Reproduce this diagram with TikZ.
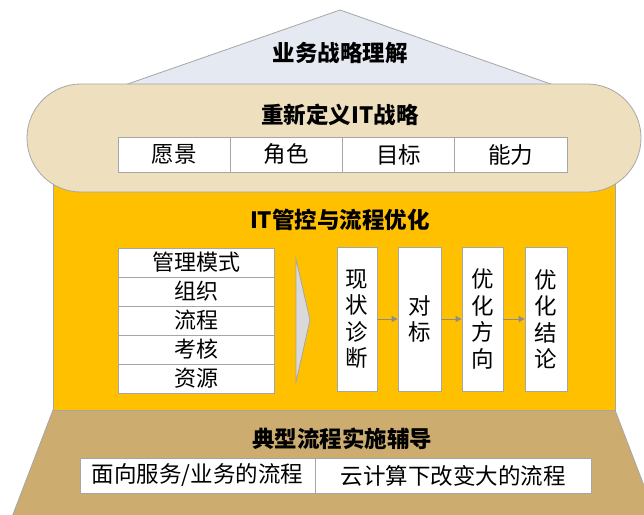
\documentclass[tikz,border=0pt]{standalone}
\usepackage{fontspec}
\setmainfont{Noto Sans CJK SC}
\usetikzlibrary{arrows.meta}
\definecolor{roofc}{RGB}{228,233,242}
\definecolor{bandc}{RGB}{238,223,190}
\definecolor{goldc}{RGB}{255,192,0}
\definecolor{tanc}{RGB}{205,172,112}
\definecolor{edgec}{RGB}{166,166,166}
\definecolor{chevc}{RGB}{217,217,217}
\definecolor{arrc}{RGB}{140,140,140}
\tikzset{
  cell/.style={draw=edgec, fill=white, line width=0.8pt, inner sep=0pt, minimum height=35pt, font=\fontsize{22.5}{26}\selectfont},
  lrow/.style={draw=edgec, fill=white, line width=0.8pt, inner sep=0pt, minimum width=156pt, minimum height=29pt, font=\fontsize{22}{24}\selectfont},
  vbox/.style={draw=edgec, fill=white, line width=0.8pt, inner sep=0pt, minimum height=144pt, align=center, font=\fontsize{22.5}{26.5}\selectfont},
  ttl/.style={font=\fontsize{22.5}{26}\selectfont\bfseries},
  arr/.style={draw=arrc, line width=1pt, -{Triangle[length=6pt,width=6pt]}},
  shp/.style={draw=edgec, line width=0.8pt}
}
\begin{document}
\begin{tikzpicture}[x=1pt,y=-1pt]
\useasboundingbox (0,0) rectangle (644,514);
% base trapezoid
\begin{scope}
\clip (0,0) rectangle (644,514);
\filldraw[shp, fill=tanc] (53,410) -- (615,410) -- (661,530) -- (7,530) -- cycle;
\end{scope}
% yellow body
\filldraw[shp, fill=goldc] (53,180) rectangle (615,410);
% roof
\filldraw[shp, fill=roofc] (76,102) -- (340,10) -- (602,102) -- cycle;
% band
\filldraw[shp, fill=bandc, rounded corners=53.9pt] (27,84) rectangle (641,192);

\node[ttl] (roofT) at (340,53) {业务战略理解};
\node[ttl] (bandT) at (340,115) {重新定义IT战略};
\node[ttl] (bodyT) at (340,220) {IT管控与流程优化};
\node[ttl] (baseT) at (342,439) {典型流程实施辅导};

% row of four
\node[cell, minimum width=112.25pt] (c1) at (174.1,154.5) {愿景};
\node[cell, minimum width=112.25pt] (c2) at (286.4,154.5) {角色};
\node[cell, minimum width=112.25pt] (c3) at (398.6,154.5) {目标};
\node[cell, minimum width=112.25pt] (c4) at (510.9,154.5) {能力};

% list
\node[lrow] (l1) at (196,262.5) {管理模式};
\node[lrow] (l2) at (196,291.5) {组织};
\node[lrow] (l3) at (196,320.5) {流程};
\node[lrow] (l4) at (196,349.5) {考核};
\node[lrow] (l5) at (196,378.5) {资源};

% chevron
\filldraw[shp, fill=chevc] (296,259) -- (310,320) -- (296,382) -- cycle;

% vertical boxes
\node[vbox, minimum width=40pt] (v1) at (357,319) {现\\状\\诊\\断};
\node[vbox, minimum width=43pt] (v2) at (419.5,319) {对\\标};
\node[vbox, minimum width=41pt] (v3) at (482.5,319) {优\\化\\方\\向};
\node[vbox, minimum width=42pt] (v4) at (546,319) {优\\化\\结\\论};
\draw[arr] (v1.east) -- (v2.west);
\draw[arr] (v2.east) -- (v3.west);
\draw[arr] (v3.east) -- (v4.west);

% bottom row
\node[cell, minimum width=235pt] (b1) at (197.5,475.5) {面向服务/业务的流程};
\node[cell, minimum width=276pt] (b2) at (453,475.5) {云计算下改变大的流程};
\end{tikzpicture}
\end{document}
